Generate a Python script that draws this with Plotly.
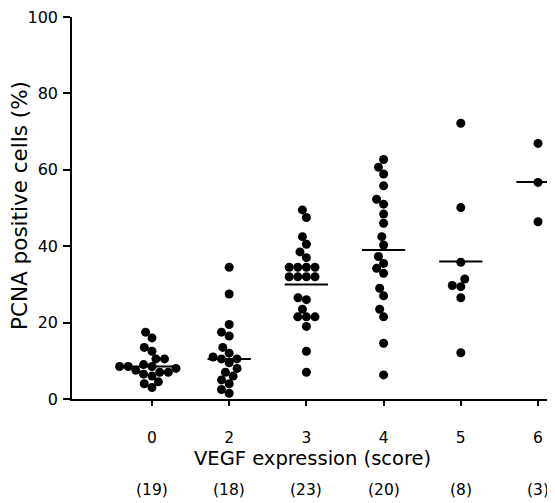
import math
import plotly.graph_objects as go

# ---- data ----
scores = ["0", "2", "3", "4", "5", "6"]
score0 = [17.5, 16, 13.5, 12.5, 10.5, 10.5, 9, 8.5, 8.5, 8.5, 8, 7.5, 7, 7, 6.5, 6, 4.5, 4, 3]
score2 = [34.5, 27.5, 19.5, 17.5, 16.5, 13.5, 12, 11, 10.5, 10.5, 9.5, 8, 7, 6, 5, 4, 2.5, 1.5]
score3 = [49.5, 47.5, 42.5, 40.5, 38.5, 37, 34.5, 34.5, 34.5, 34.5, 32, 32, 32, 32,
          26.5, 26, 23.5, 21.5, 21.5, 21.5, 19, 12.5, 7]
score4 = [62.7, 60.7, 58.9, 55.8, 52.3, 51, 48.4, 46, 42.5, 40.3, 37.3, 35.5, 34.2, 32.9,
          29, 27, 23.5, 21.5, 14.6, 6.3]
score5 = [72.2, 50.1, 35.8, 31.4, 29.7, 29.4, 26.5, 12.1]
score6 = [66.9, 56.7, 46.4]
medians = [8.5, 10.5, 30, 39, 36, 56.8]
y_ticks = [0, 20, 40, 60, 80, 100]

groups = [score0, score2, score3, score4, score5, score6]

# ---- geometry (layout only) ----
# the page body has an 8px margin, so the figure is drawn 8px in from the top-left
BODY = 8
W, H = 555 - BODY, 503 - BODY
ML, MR, MT, MB = 72 - BODY, 0, 17 - BODY, 104
x_range = [-1.036, 5.22]
y_range = [0, 100]
plot_w = W - ML - MR
plot_h = H - MT - MB
px_per_x = plot_w / (x_range[1] - x_range[0])
px_per_y = plot_h / (y_range[1] - y_range[0])
DOT = 9
MED_HALF = 0.28


def swarm(vals, d=8.6):
    """Simple beeswarm: offsets (in x data units) so dots don't overlap."""
    placed = []
    offs = [0.0] * len(vals)
    order = sorted(range(len(vals)), key=lambda i: vals[i])
    for i in order:
        yi = vals[i] * px_per_y
        cands = [0.0]
        for xj, yj in placed:
            dy = yi - yj
            if abs(dy) < d:
                dx = math.sqrt(d * d - dy * dy)
                cands += [xj + dx, xj - dx]
        valid = [c for c in cands
                 if all((c - xj) ** 2 + (yi - yj) ** 2 >= d * d - 1e-6 for xj, yj in placed)]
        best = min(valid, key=lambda c: (abs(c), c))
        placed.append((best, yi))
        offs[i] = best / px_per_x
    return offs


fig = go.Figure()
for gi, vals in enumerate(groups):
    offs = swarm(vals)
    fig.add_trace(go.Scatter(
        x=[gi + o for o in offs], y=vals, mode="markers",
        marker=dict(size=DOT, color="black", line=dict(width=0)),
        showlegend=False, hoverinfo="y", cliponaxis=False))
    fig.add_trace(go.Scatter(
        x=[gi - MED_HALF, gi + MED_HALF], y=[medians[gi], medians[gi]],
        mode="lines", line=dict(color="black", width=2),
        showlegend=False, hoverinfo="skip", cliponaxis=False))

FONT = "DejaVu Sans"
fig.update_layout(
    width=W, height=H,
    margin=dict(l=ML, r=MR, t=MT, b=MB, pad=0, autoexpand=False),
    paper_bgcolor="white", plot_bgcolor="white",
    font=dict(family=FONT, color="black", size=16),
    xaxis=dict(range=x_range, tickmode="array", tickvals=list(range(len(scores))),
               ticktext=scores, showgrid=False, zeroline=False, showline=True,
               linecolor="black", linewidth=1.5, ticks="outside", ticklen=5,
               tickwidth=1.5, tickcolor="black", tickfont=dict(size=15.5),
               ticklabelstandoff=19, automargin=False, ticklabeloverflow="allow"),
    yaxis=dict(range=y_range, tickmode="array", tickvals=y_ticks,
               showgrid=False, zeroline=False, showline=True,
               linecolor="black", linewidth=1.5, ticks="outside", ticklen=7,
               tickwidth=1.5, tickcolor="black", tickfont=dict(size=16),
               ticklabelstandoff=2, automargin=False, ticklabeloverflow="allow"),
)

# axis titles
fig.add_annotation(text="VEGF expression (score)", xref="paper", yref="paper",
                   x=(312 - 72) / plot_w, y=-(458 - 399) / plot_h,
                   showarrow=False, font=dict(size=19.5), xanchor="center", yanchor="middle")
fig.add_annotation(text="PCNA positive cells (%)", xref="paper", yref="paper",
                   x=(19 - 72) / plot_w, y=(399 - 206) / plot_h, textangle=-90,
                   showarrow=False, font=dict(size=21.5), xanchor="center", yanchor="middle")
# group sizes
for gi, vals in enumerate(groups):
    fig.add_annotation(text=f"({len(vals)})", xref="x", yref="paper",
                       x=gi, y=-(490 - 399) / plot_h, showarrow=False,
                       font=dict(size=15.5), xanchor="center", yanchor="middle")

fig.write_html("out.html")
